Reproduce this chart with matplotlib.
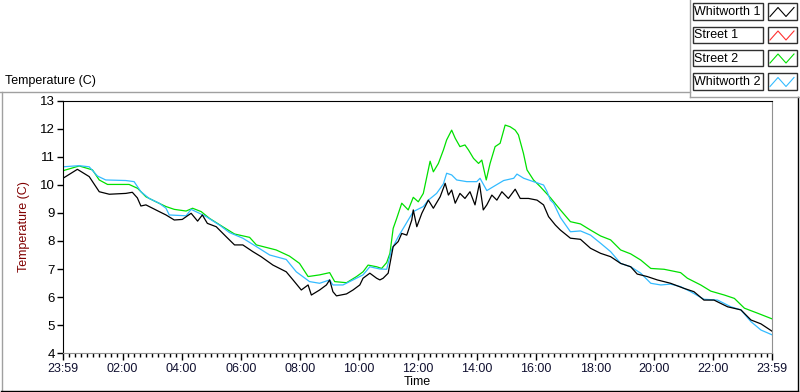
import numpy as np
import matplotlib
matplotlib.use("Agg")
import matplotlib.pyplot as plt
from matplotlib.lines import Line2D
from matplotlib.patches import Rectangle

# time in hours after midnight (23:59 of previous day = -1/60)
t_black = [-0.017, 0.47, 0.87, 1.21, 1.55, 2.11, 2.33, 2.50, 2.62, 2.79, 3.24, 3.47, 3.75, 4.02,
           4.32, 4.54, 4.70, 4.87, 5.17, 5.51, 5.79, 6.07, 6.41, 6.69, 7.09, 7.54, 7.77, 8.05,
           8.28, 8.39, 8.67, 8.90, 9.01, 9.12, 9.24, 9.58, 9.80, 10.03, 10.14, 10.37, 10.60,
           10.71, 10.82, 10.99, 11.16, 11.33, 11.45, 11.62, 11.79, 11.84, 11.96, 12.13, 12.35,
           12.52, 12.75, 12.92, 13.03, 13.14, 13.26, 13.42, 13.59, 13.76, 13.93, 14.08, 14.21,
           14.33, 14.50, 14.67, 14.84, 15.06, 15.29, 15.46, 15.74, 16.03, 16.25, 16.42, 16.65,
           16.82, 17.16, 17.50, 17.84, 18.18, 18.52, 18.86, 19.20, 19.42, 19.76, 20.10, 20.55,
           21.00, 21.34, 21.68, 22.02, 22.48, 22.93, 23.27, 23.61, 23.983]
v_black = [10.24, 10.56, 10.30, 9.76, 9.67, 9.70, 9.74, 9.54, 9.25, 9.29, 9.05, 8.93, 8.75, 8.77,
           8.99, 8.71, 8.93, 8.63, 8.51, 8.15, 7.86, 7.86, 7.62, 7.44, 7.14, 6.90, 6.61, 6.25,
           6.43, 6.07, 6.25, 6.43, 6.61, 6.19, 6.04, 6.11, 6.25, 6.43, 6.67, 6.85, 6.67,
           6.61, 6.67, 6.85, 7.80, 7.98, 8.27, 8.21, 8.75, 9.11, 8.51, 8.99, 9.46,
           9.17, 9.58, 10.06, 9.64, 9.82, 9.35, 9.70, 9.52, 9.76, 9.29, 10.06, 9.11,
           9.29, 9.64, 9.46, 9.76, 9.52, 9.85, 9.52, 9.52, 9.46, 9.29, 8.87, 8.57,
           8.39, 8.10, 8.06, 7.74, 7.56, 7.44, 7.20, 7.08, 6.82, 6.73, 6.61, 6.49,
           6.31, 6.19, 5.89, 5.89, 5.65, 5.54, 5.18, 5.04, 4.78]

t_blue = [-0.017, 0.53, 0.87, 1.15, 1.43, 2.11, 2.39, 2.62, 2.90, 3.24, 3.47, 3.58, 4.15, 4.32,
          4.60, 4.83, 5.28, 5.62, 6.07, 6.53, 6.98, 7.54, 7.88, 8.33, 8.67, 9.01, 9.12, 9.46,
          9.80, 10.14, 10.37, 10.71, 10.94, 11.10, 11.33, 11.50, 11.84, 12.18, 12.35, 12.63,
          12.86, 12.97, 13.14, 13.31, 13.65, 13.99, 14.10, 14.33, 14.55, 14.90, 15.24, 15.35,
          15.58, 15.91, 16.25, 16.37, 16.48, 16.59, 16.82, 17.16, 17.50, 17.84, 18.18, 18.52,
          18.86, 19.20, 19.54, 19.88, 20.22, 20.55, 20.89, 21.23, 21.68, 22.14, 22.59, 22.93,
          23.27, 23.61, 23.983]
v_blue = [10.65, 10.69, 10.65, 10.32, 10.18, 10.16, 10.12, 9.76, 9.52, 9.35, 9.17, 8.93, 8.90, 9.13,
          8.99, 8.87, 8.57, 8.30, 8.10, 7.80, 7.50, 7.34, 6.90, 6.55, 6.49, 6.61, 6.43, 6.43,
          6.61, 6.79, 7.08, 7.00, 6.99, 7.68, 8.15, 8.45, 9.05, 9.23, 9.46, 9.70,
          10.04, 10.42, 10.36, 10.18, 10.12, 10.12, 10.24, 9.80, 9.94, 10.16, 10.24, 10.39,
          10.24, 10.12, 10.00, 9.76, 9.46, 9.35, 8.84, 8.33, 8.36, 8.21, 7.92, 7.62,
          7.20, 7.08, 6.85, 6.49, 6.43, 6.46, 6.37, 6.19, 5.92, 5.89, 5.65, 5.54,
          5.12, 4.82, 4.65]

t_green = [-0.017, 0.53, 0.98, 1.21, 1.49, 2.22, 2.51, 2.79, 3.13, 3.47, 3.75, 4.15, 4.37, 4.66,
           4.94, 5.39, 5.79, 6.30, 6.53, 7.20, 7.65, 7.99, 8.28, 8.67, 9.01, 9.18, 9.58, 9.92,
           10.14, 10.31, 10.60, 10.77, 10.94, 11.05, 11.16, 11.28, 11.45, 11.56, 11.67, 11.84,
           12.01, 12.18, 12.30, 12.41, 12.52, 12.69, 12.86, 12.97, 13.14, 13.26, 13.42, 13.59,
           13.71, 13.88, 14.05, 14.16, 14.31, 14.44, 14.61, 14.78, 14.95, 15.12, 15.29, 15.40,
           15.57, 15.69, 15.91, 16.14, 16.48, 16.82, 17.16, 17.50, 17.84, 18.18, 18.52, 18.86,
           19.20, 19.54, 19.88, 20.33, 20.89, 21.12, 21.57, 21.91, 22.37, 22.71, 23.05, 23.50,
           23.983]
v_green = [10.51, 10.68, 10.54, 10.18, 10.02, 10.02, 9.88, 9.58, 9.40, 9.23, 9.13, 9.07, 9.17, 9.05,
           8.81, 8.51, 8.25, 8.13, 7.86, 7.68, 7.46, 7.20, 6.73, 6.79, 6.87, 6.55, 6.51, 6.73,
           6.90, 7.14, 7.08, 7.02, 7.23, 7.56, 8.45, 8.81, 9.35, 9.23, 9.11, 9.56,
           9.40, 9.70, 10.30, 10.85, 10.47, 10.77, 11.25, 11.61, 11.96, 11.67, 11.37, 11.43,
           11.25, 10.95, 10.77, 10.89, 10.18, 10.77, 11.37, 11.49, 12.14, 12.08, 11.96, 11.79,
           11.13, 10.54, 10.18, 9.94, 9.55, 9.11, 8.69, 8.61, 8.39, 8.18, 8.04, 7.68,
           7.54, 7.32, 7.02, 6.99, 6.87, 6.67, 6.43, 6.21, 6.07, 5.95, 5.60, 5.42,
           5.22]

t_street1 = []
v_street1 = []

names = ["Whitworth 1", "Street 1", "Street 2", "Whitworth 2"]
colors = ["#000000", "#ff3030", "#00e000", "#33bbff"]

tick_pos = [-1 / 60, 2, 4, 6, 8, 10, 12, 14, 16, 18, 20, 22, 23 + 59 / 60]
tick_lab = ["23:59", "02:00", "04:00", "06:00", "08:00", "10:00", "12:00",
            "14:00", "16:00", "18:00", "20:00", "22:00", "23:59"]

W, H = 800, 392
FS = 9


def fx(x):
    return x / W


def fy(y):
    return 1 - y / H


plt.rcParams['font.family'] = ['Liberation Sans', 'DejaVu Sans']
fig = plt.figure(figsize=(8, 3.92), dpi=100)
ax = fig.add_axes([fx(63), fy(353), (772 - 63) / W, (353 - 101) / H])

series = [(t_black, v_black), (t_street1, v_street1), (t_green, v_green), (t_blue, v_blue)]
order = [1, 2, 3, 0]
for i in order:
    t, v = series[i]
    ax.plot(t, v, color=colors[i], lw=0.9)

ax.set_xlim(tick_pos[0], tick_pos[-1])
ax.set_ylim(4, 13)
ax.set_yticks(range(4, 14))
ax.set_xticks(tick_pos)
ax.set_xticklabels(tick_lab, fontsize=FS, color="#101030")
ax.set_xticks(np.arange(0.2, 23.9, 0.2), minor=True)
ax.tick_params(axis='x', which='major', length=5, width=1, pad=2)
ax.tick_params(axis='x', which='minor', length=3, width=1)
ax.tick_params(axis='y', length=4, width=1, labelsize=FS + 0.5, pad=2)
for s in ['left', 'top']:
    ax.spines[s].set_color('black')
for s in ['right', 'bottom']:
    ax.spines[s].set_color('#909090')
ax.set_ylabel("Temperature (C)", color="#800000", fontsize=FS, labelpad=7)
ax.set_xlabel("Time", fontsize=FS, labelpad=1)

# outer frame
fig.add_artist(Line2D([fx(0), fx(690)], [fy(92), fy(92)], color='#a0a0a0', lw=1))
fig.add_artist(Line2D([fx(1.5), fx(1.5)], [fy(92), fy(391)], color='#a0a0a0', lw=1))
fig.add_artist(Line2D([fx(1), fx(797.5)], [fy(390.5), fy(390.5)], color='black', lw=1))
fig.add_artist(Line2D([fx(797.5), fx(797.5)], [fy(97), fy(391)], color='black', lw=1))
fig.text(fx(5), fy(81), "Temperature (C)", fontsize=FS, va='center', ha='left')

# legend panel
fig.add_artist(Line2D([fx(690), fx(690)], [fy(0), fy(97)], color='#a0a0a0', lw=1))
fig.add_artist(Line2D([fx(690), fx(800)], [fy(96.5), fy(96.5)], color='#a0a0a0', lw=1))
rows = [3.5, 27, 50, 73.5]
for i, name in enumerate(names):
    y0 = rows[i]
    fig.add_artist(Rectangle((fx(692.5), fy(y0 + 16)), 70 / W, 16 / H, fill=False,
                             ec='#303030', lw=1, transform=fig.transFigure))
    fig.text(fx(694.5), fy(y0 + 8.5), name, fontsize=FS, va='center', ha='left')
    fig.add_artist(Rectangle((fx(767.5), fy(y0 + 16)), 29 / W, 16 / H, fill=False,
                             ec='#303030', lw=1, transform=fig.transFigure))
    zx = [770, 778, 786, 794]
    zy = [y0 + 13, y0 + 4, y0 + 13, y0 + 4]
    fig.add_artist(Line2D([fx(a) for a in zx], [fy(b) for b in zy], color=colors[i], lw=0.8))

fig.savefig("out.png", dpi=100)
